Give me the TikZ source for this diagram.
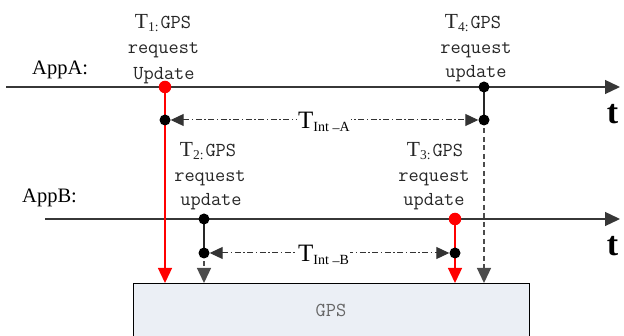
\documentclass[tikz,border=0pt]{standalone}
\usepackage{fontspec}
\setmainfont{Liberation Serif}
\usetikzlibrary{arrows.meta}
\definecolor{gpsfill}{RGB}{235,239,245}
\definecolor{axisgray}{RGB}{55,55,55}
\newcommand{\Tsub}[1]{{\rmfamily\fontsize{21.5}{21.5}\selectfont T}\raisebox{-3pt}{\rmfamily\fontsize{13.5}{13.5}\selectfont #1}\kern2pt}
\newcommand{\Tint}[1]{{\fontsize{25}{25}\selectfont T}\raisebox{-3pt}{\fontsize{14}{14}\selectfont Int \raisebox{-1pt}{--}#1}}
\begin{document}
\begin{tikzpicture}[x=1pt,y=-1pt,
  axis/.style={draw=axisgray, line width=1.3pt, -{Triangle[length=15pt,width=14pt]}},
  dotb/.style={circle, fill=black, inner sep=0pt, minimum size=11pt},
  dotr/.style={circle, fill=red, inner sep=0pt, minimum size=12.5pt},
  mono/.style={anchor=base, inner sep=0pt, text=black!85, font=\ttfamily\fontsize{19.8}{22}\selectfont},
  applbl/.style={anchor=base west, inner sep=0pt, font=\fontsize{20.5}{24}\selectfont},
  tlbl/.style={anchor=base, inner sep=0pt, font=\bfseries\fontsize{34}{34}\selectfont},
  redarrow/.style={draw=red, line width=1.3pt, -{Triangle[length=15pt,width=14pt]}},
  solidseg/.style={draw=black!85, line width=1.3pt},
  dashseg/.style={draw=black!70, line width=1.3pt, dash pattern=on 5pt off 3.5pt, -{Triangle[length=15pt,width=14pt]}},
  intarrow/.style={draw=black!80, line width=1pt, dash pattern=on 6pt off 2.5pt on 1.5pt off 2.5pt,
    {Triangle[length=13pt,width=12pt]}-{Triangle[length=13pt,width=12pt]}},
  intlbl/.style={anchor=base west, fill=white, inner sep=1pt}
]
\useasboundingbox (0,0) rectangle (624,336);

% GPS box
\node[draw=black, line width=0.8pt, fill=gpsfill, anchor=north west, inner sep=0pt,
      minimum width=396pt, minimum height=60pt] (gps) at (133,283) {};
\node[anchor=base, inner sep=0pt, text=black!60, font=\ttfamily\fontsize{19.8}{22}\selectfont] (gpstext) at (331,317) {GPS};

% coordinates
\coordinate (pA1) at (165,87);
\coordinate (pA1b) at (165,120);
\coordinate (pA4) at (484,87);
\coordinate (pA4b) at (484,120);
\coordinate (pB2) at (204,219);
\coordinate (pB2b) at (204,253);
\coordinate (pB3) at (455,219);
\coordinate (pB3b) at (455,253);

% axes
\coordinate (Astart) at (6,87);
\coordinate (Aend) at (620,87);
\coordinate (Bstart) at (45,219);
\coordinate (Bend) at (620,219);
\draw[axis] (Astart) -- (Aend);
\draw[axis] (Bstart) -- (Bend);

% vertical connectors
\draw[redarrow] (pA1) -- (pA1 |- gps.north);
\draw[redarrow] (pB3) -- (pB3 |- gps.north);
\draw[solidseg] (pA4) -- (pA4b);
\draw[dashseg] (pA4b) -- (pA4b |- gps.north);
\draw[solidseg] (pB2) -- (pB2b);
\draw[dashseg] (pB2b) -- (pB2b |- gps.north);

% dots
\node[dotr] (a1) at (pA1) {};
\node[dotb] (a1b) at (pA1b) {};
\node[dotb] (a4) at (pA4) {};
\node[dotb] (a4b) at (pA4b) {};
\node[dotb] (b2) at (pB2) {};
\node[dotb] (b2b) at (pB2b) {};
\node[dotr] (b3) at (pB3) {};
\node[dotb] (b3b) at (pB3b) {};

% interval arrows
\draw[intarrow] (a1b) -- (a4b);
\draw[intarrow] (b2b) -- (b3b);
\node[intlbl] (intA) at (297,129) {\Tint{A}};
\node[intlbl] (intB) at (297,262) {\Tint{B}};

% app labels
\node[applbl] (appA) at (32,75) {AppA:};
\node[applbl] (appB) at (22,203) {AppB:};

% t labels
\node[tlbl] (tA) at (612.5,124) {t};
\node[tlbl] (tB) at (612.5,256) {t};

% event labels
\node[mono] (l1a) at (163,29) {\Tsub{1:}GPS};
\node[mono] (l1b) at (163.5,54) {request};
\node[mono] (l1c) at (164,80) {Update};

\node[mono] (l4a) at (473,29) {\Tsub{4:}GPS};
\node[mono] (l4b) at (476,54) {request};
\node[mono] (l4c) at (476,78) {update};

\node[mono] (l2a) at (208,157) {\Tsub{2:}GPS};
\node[mono] (l2b) at (210,182) {request};
\node[mono] (l2c) at (211,206) {update};

\node[mono] (l3a) at (435,157) {\Tsub{3:}GPS};
\node[mono] (l3b) at (434,182) {request};
\node[mono] (l3c) at (434,206) {update};
\end{tikzpicture}
\end{document}
